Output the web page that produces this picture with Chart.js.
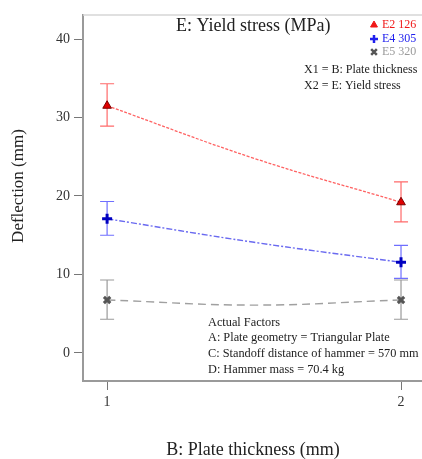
<!DOCTYPE html>
<html>
<head>
<meta charset="utf-8">
<script src="https://cdn.jsdelivr.net/npm/chart.js@4/dist/chart.umd.min.js"></script>
<style>
  html, body { margin: 0; padding: 0; background: #fff; }
  #wrap { width: 422px; height: 459px; }
</style>
</head>
<body>
<div id="wrap"><canvas id="deflectionChart"></canvas></div>
<script>
  // plate thickness positions (ends are design points, middle)
  const thickness = [1, 1.5, 2];
  const e2Values = [31.5, 24.8, 19.2];
  const e4Values = [17.1, 14.1, 11.55];
  const e5Values = [6.75, 6.1, 6.75];

  // error bars at the two design points
  const barX = [1, 2];
  const e2Low = [28.9, 16.7];
  const e2High = [34.3, 21.8];
  const e4Low = [15.0, 9.5];
  const e4High = [19.3, 13.7];
  const e5Low = [4.3, 4.3];
  const e5High = [9.3, 9.3];

  const xTicks = [1, 2];
  const yTicks = [0, 10, 20, 30, 40];

  const serif = '"Liberation Serif", "DejaVu Serif", serif';

  const toPoints = vals => thickness.map((x, i) => ({ x: x, y: vals[i] }));
  const endsOnly = r => thickness.map((x, i) => (i === 0 || i === thickness.length - 1) ? r : 0);

  const errorBars = [
    { low: e2Low, high: e2High, color: '#ff6a6a' },
    { low: e4Low, high: e4High, color: '#6f6fff' },
    { low: e5Low, high: e5High, color: '#9a9a9a' }
  ];

  const decorations = {
    id: 'decorations',
    beforeDatasetsDraw(chart) {
      const { ctx, chartArea, scales } = chart;
      ctx.save();
      // light top border of the frame
      ctx.strokeStyle = '#d6d6d6';
      ctx.lineWidth = 1.5;
      ctx.beginPath();
      ctx.moveTo(chartArea.left, chartArea.top);
      ctx.lineTo(chartArea.right, chartArea.top);
      ctx.stroke();

      // error bars
      errorBars.forEach(eb => {
        ctx.strokeStyle = eb.color;
        ctx.lineWidth = 1.2;
        barX.forEach((xv, i) => {
          const px = scales.x.getPixelForValue(xv);
          const top = scales.y.getPixelForValue(eb.high[i]);
          const bot = scales.y.getPixelForValue(eb.low[i]);
          ctx.beginPath();
          ctx.moveTo(px, top); ctx.lineTo(px, bot);
          ctx.moveTo(px - 7, top); ctx.lineTo(px + 7, top);
          ctx.moveTo(px - 7, bot); ctx.lineTo(px + 7, bot);
          ctx.stroke();
        });
      });
      ctx.restore();
    },
    afterDraw(chart) {
      const { ctx } = chart;
      ctx.save();
      ctx.textBaseline = 'middle';
      ctx.textAlign = 'left';

      // title
      ctx.font = '18px ' + serif;
      ctx.fillStyle = '#222';
      ctx.fillText('E: Yield stress (MPa)', 176, 26);

      // legend
      const legend = [
        { text: 'E2 126', color: '#f01818', style: 'triangle', y: 25 },
        { text: 'E4 305', color: '#2020ee', style: 'cross', y: 39 },
        { text: 'E5 320', color: '#9a9a9a', style: 'crossRot', y: 52 }
      ];
      ctx.font = '12px ' + serif;
      legend.forEach(item => {
        ctx.fillStyle = item.style === 'crossRot' ? '#555' : item.color;
        ctx.strokeStyle = item.style === 'crossRot' ? '#555' : item.color;
        ctx.lineWidth = item.style === 'triangle' ? 1 : 2.5;
        Chart.helpers.drawPoint(ctx, { pointStyle: item.style, radius: 4, rotation: 0, borderWidth: ctx.lineWidth }, 374, item.y);
        ctx.fillStyle = item.color;
        ctx.fillText(item.text, 382, item.y);
      });
      ctx.fillStyle = '#222';
      ctx.fillText('X1 = B: Plate thickness', 304, 70);
      ctx.fillText('X2 = E: Yield stress', 304, 86);

      // actual factors
      ctx.font = '12.3px ' + serif;
      ctx.fillText('Actual Factors', 208, 323);
      ctx.fillText('A: Plate geometry = Triangular Plate', 208, 338);
      ctx.fillText('C: Standoff distance of hammer = 570 mm', 208, 354);
      ctx.fillText('D: Hammer mass = 70.4 kg', 208, 370);

      // axis titles
      ctx.font = '18px ' + serif;
      ctx.textAlign = 'center';
      ctx.fillText('B: Plate thickness (mm)', 253, 450);
      ctx.font = '17px ' + serif;
      ctx.translate(19, 186);
      ctx.rotate(-Math.PI / 2);
      ctx.fillText('Deflection (mm)', 0, 0);
      ctx.restore();
    }
  };

  new Chart(document.getElementById('deflectionChart'), {
    type: 'line',
    data: {
      datasets: [
        {
          label: 'E2 126',
          data: toPoints(e2Values),
          borderColor: '#ff6262',
          borderWidth: 1.3,
          borderDash: [3, 1.5],
          tension: 0.4,
          pointStyle: 'triangle',
          pointRadius: endsOnly(5),
          pointBackgroundColor: '#e00000',
          pointBorderColor: '#7a0000',
          pointBorderWidth: 1
        },
        {
          label: 'E4 305',
          data: toPoints(e4Values),
          borderColor: '#6a6af0',
          borderWidth: 1.4,
          borderDash: [6, 2, 2, 2],
          tension: 0.4,
          pointStyle: 'cross',
          pointRadius: endsOnly(5),
          pointBorderColor: '#0000c0',
          pointBorderWidth: 3
        },
        {
          label: 'E5 320',
          data: toPoints(e5Values),
          borderColor: '#a0a0a0',
          borderWidth: 1.4,
          borderDash: [8, 5],
          tension: 0.4,
          pointStyle: 'crossRot',
          pointRadius: endsOnly(4.5),
          pointBorderColor: '#555',
          pointBorderWidth: 3
        }
      ]
    },
    options: {
      responsive: true,
      maintainAspectRatio: false,
      animation: false,
      layout: { autoPadding: false, padding: { left: 0, right: 0, top: 15, bottom: 0 } },
      plugins: { legend: { display: false }, tooltip: { enabled: false } },
      scales: {
        x: {
          type: 'linear',
          min: 0.918,
          max: 2.0714,
          afterFit: s => { s.height = 78; },
          afterBuildTicks: s => { s.ticks = xTicks.map(v => ({ value: v })); },
          grid: { display: true, drawOnChartArea: false, tickLength: 9, color: '#777', lineWidth: 1 },
          border: { display: true, color: '#9a9a9a', width: 2 },
          ticks: { font: { family: serif, size: 14 }, color: '#333', padding: 4 }
        },
        y: {
          type: 'linear',
          min: -3.57,
          max: 43.06,
          afterFit: s => { s.width = 83; },
          afterBuildTicks: s => { s.ticks = yTicks.map(v => ({ value: v })); },
          grid: { display: true, drawOnChartArea: false, tickLength: 9, color: '#777', lineWidth: 1 },
          border: { display: true, color: '#9a9a9a', width: 2 },
          ticks: { font: { family: serif, size: 14 }, color: '#333', padding: 4 }
        }
      }
    },
    plugins: [decorations]
  });
</script>
</body>
</html>
